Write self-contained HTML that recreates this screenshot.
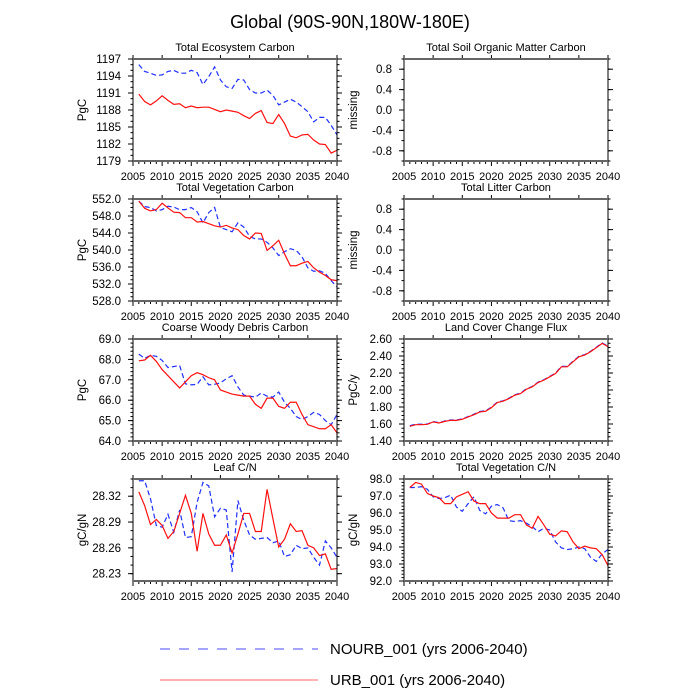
<!DOCTYPE html>
<html><head><meta charset="utf-8"><style>
body{margin:0;background:#fff;}
svg{display:block;font-family:"Liberation Sans",sans-serif;}
</style></head><body>
<svg id="c" width="700" height="700" viewBox="0 0 700 700">
<text x="350" y="28" font-size="18" text-anchor="middle">Global (90S-90N,180W-180E)</text>
<g>
<line x1="160" y1="649" x2="318" y2="649" stroke="#00f" stroke-width="1" stroke-dasharray="10,9" opacity="0.7"/>
<text x="330" y="654" font-size="15">NOURB_001 (yrs 2006-2040)</text>
<line x1="160" y1="680" x2="318" y2="680" stroke="#f00" stroke-width="1" opacity="0.6"/>
<text x="330" y="685" font-size="15">URB_001 (yrs 2006-2040)</text>
</g>
</svg>
<script>
const years=[];for(let y=2006;y<=2040;y++)years.push(y);
const tecRed=[1190.8,1189.5,1188.9,1189.6,1190.5,1189.7,1189.0,1189.1,1188.4,1188.7,1188.4,1188.5,1188.5,1188.1,1187.7,1188.0,1187.8,1187.6,1187.0,1186.5,1187.4,1187.9,1185.8,1185.6,1187.2,1185.6,1183.4,1183.1,1183.6,1183.7,1182.7,1182.0,1181.9,1180.4,1180.9];
const tecBlue=[1196.0,1194.8,1194.5,1194.1,1194.2,1194.8,1195.0,1194.5,1194.5,1195.0,1194.6,1192.5,1193.9,1195.6,1193.3,1192.1,1191.8,1193.4,1193.3,1191.6,1191.0,1191.0,1191.5,1190.6,1188.9,1189.4,1189.9,1189.4,1188.6,1187.7,1185.9,1186.7,1186.7,1185.3,1183.6];
const tvcRed=[551.5,549.8,549.2,549.5,551.0,549.9,548.9,548.8,547.6,547.6,546.6,546.7,546.2,545.7,545.4,545.8,545.2,544.8,543.4,542.6,544.0,543.9,539.9,541.0,542.3,539.1,536.3,536.3,536.9,537.3,535.8,534.8,534.0,533.0,532.8];
const tvcBlue=[551.5,550.2,550.0,549.2,549.5,550.3,550.1,549.5,549.5,550.0,549.0,546.4,548.8,550.0,545.3,544.8,544.3,546.4,545.4,543.2,542.6,542.6,541.8,540.5,538.7,539.6,540.3,539.9,538.4,535.8,535.0,535.1,534.5,532.8,531.3];
const cwdRed=[67.93,67.97,68.2,67.9,67.5,67.2,66.9,66.6,66.9,67.2,67.35,67.25,67.1,67.0,66.5,66.4,66.3,66.25,66.2,66.2,65.8,65.6,66.1,66.1,65.7,65.6,65.9,65.9,65.3,64.8,64.7,64.6,64.6,64.8,64.4];
const cwdBlue=[68.26,68.05,68.2,68.15,67.95,67.6,67.65,67.7,66.8,66.75,66.78,67.15,66.75,66.78,66.85,67.05,67.2,66.65,66.25,66.2,66.15,66.35,66.2,66.15,66.4,65.9,65.6,65.2,65.05,65.2,65.4,65.3,65.0,64.8,65.3];
const lcnRed=[28.325,28.309,28.287,28.293,28.286,28.271,28.279,28.300,28.321,28.300,28.256,28.300,28.276,28.263,28.263,28.275,28.254,28.276,28.300,28.300,28.279,28.279,28.328,28.294,28.261,28.270,28.288,28.279,28.280,28.263,28.260,28.251,28.253,28.235,28.236];
const lcnBlue=[28.338,28.338,28.317,28.286,28.284,28.299,28.278,28.304,28.272,28.273,28.313,28.336,28.332,28.296,28.306,28.304,28.232,28.315,28.292,28.275,28.270,28.271,28.272,28.266,28.268,28.250,28.252,28.263,28.259,28.260,28.249,28.240,28.268,28.260,28.249];
const lccRed=[1.573,1.592,1.592,1.596,1.624,1.612,1.631,1.643,1.643,1.655,1.683,1.710,1.742,1.750,1.793,1.852,1.868,1.899,1.939,1.958,2.009,2.037,2.088,2.116,2.155,2.194,2.273,2.273,2.332,2.391,2.411,2.450,2.498,2.549,2.509];
const lccBlue=[1.580,1.598,1.597,1.600,1.628,1.616,1.636,1.647,1.647,1.660,1.688,1.715,1.747,1.755,1.798,1.857,1.873,1.904,1.944,1.963,2.014,2.042,2.093,2.121,2.160,2.199,2.278,2.278,2.337,2.396,2.416,2.455,2.503,2.554,2.514];
const vcnRed=[97.5,97.8,97.7,97.15,97.0,96.9,96.55,96.55,96.95,97.1,97.25,96.7,96.55,96.55,96.0,95.7,95.7,95.7,95.9,95.9,95.3,95.1,95.8,95.3,94.75,94.65,94.95,94.9,94.3,93.9,94.05,93.95,93.9,93.55,92.9];
const vcnBlue=[97.5,97.5,97.55,97.4,96.95,96.85,96.9,97.05,96.35,96.1,96.55,96.95,96.15,95.95,96.4,96.5,96.3,95.55,95.5,95.55,95.4,95.2,94.9,95.1,95.0,94.3,93.95,93.85,93.9,94.0,93.9,93.4,93.15,93.6,93.85];
const xTicks=[2005,2010,2015,2020,2025,2030,2035,2040];
const tecTicks=[1179,1182,1185,1188,1191,1194,1197];
const tvcTicks=[528,532,536,540,544,548,552];
const cwdTicks=[64,65,66,67,68,69];
const lcnTicks=[28.23,28.26,28.29,28.32];
const lccTicks=[1.4,1.6,1.8,2.0,2.2,2.4,2.6];
const vcnTicks=[92,93,94,95,96,97,98];
const missTicks=[-0.8,-0.4,0,0.4,0.8];

const NS="http://www.w3.org/2000/svg";
const svg=document.getElementById('c');
function mk(tag,attrs,parent){const e=document.createElementNS(NS,tag);for(const k in attrs)e.setAttribute(k,attrs[k]);(parent||svg).appendChild(e);return e;}

const panels=[
 {name:'total-ecosystem-carbon',title:'Total Ecosystem Carbon',x:133,y:59,ylab:'PgC',ymin:1179,ymax:1197,ticks:tecTicks,minor:1,dec:0,red:tecRed,blue:tecBlue},
 {name:'total-soil-organic-matter-carbon',title:'Total Soil Organic Matter Carbon',x:404,y:59,ylab:'missing',ymin:-1,ymax:1,ticks:missTicks,minor:0.2,dec:1,red:null,blue:null},
 {name:'total-vegetation-carbon',title:'Total Vegetation Carbon',x:133,y:199,ylab:'PgC',ymin:528,ymax:552,ticks:tvcTicks,minor:1,dec:1,red:tvcRed,blue:tvcBlue},
 {name:'total-litter-carbon',title:'Total Litter Carbon',x:404,y:199,ylab:'missing',ymin:-1,ymax:1,ticks:missTicks,minor:0.2,dec:1,red:null,blue:null},
 {name:'coarse-woody-debris-carbon',title:'Coarse Woody Debris Carbon',x:133,y:339,ylab:'PgC',ymin:64,ymax:69,ticks:cwdTicks,minor:0.2,dec:1,red:cwdRed,blue:cwdBlue},
 {name:'land-cover-change-flux',title:'Land Cover Change Flux',x:404,y:339,ylab:'PgC/y',ymin:1.4,ymax:2.6,ticks:lccTicks,minor:0.05,dec:2,red:lccRed,blue:lccBlue},
 {name:'leaf-cn',title:'Leaf C/N',x:133,y:479,ylab:'gC/gN',ymin:28.2215,ymax:28.34,ticks:lcnTicks,minor:0.01,dec:2,red:lcnRed,blue:lcnBlue},
 {name:'total-vegetation-cn',title:'Total Vegetation C/N',x:404,y:479,ylab:'gC/gN',ymin:92,ymax:98,ticks:vcnTicks,minor:0.2,dec:1,red:vcnRed,blue:vcnBlue}
];
const W=204,H=102;
panels.forEach(p=>{
 const g=mk('g',{});
 
 
 const sx=v=>p.x+(v-2005)/35*W;
 const sy=v=>p.y+H-(v-p.ymin)/(p.ymax-p.ymin)*H;
 const t=mk('text',{x:p.x+W/2,y:p.y-8,'font-size':11,'text-anchor':'middle'},g);t.textContent=p.title;
 
 for(let yr=2005;yr<=2040;yr++){
  const major=(yr%5==0);const X=sx(yr);
  mk('line',{x1:X,y1:p.y+H,x2:X,y2:p.y+H+(major?5:3),stroke:'#000','stroke-width':1},g);
  if(major) mk('line',{x1:X,y1:p.y,x2:X,y2:p.y-4,stroke:'#000','stroke-width':1},g);
 }
 xTicks.forEach(v=>{const tt=mk('text',{x:sx(v),y:p.y+H+19,'font-size':11,'text-anchor':'middle'},g);tt.textContent=v;
  });
 const start=Math.ceil(p.ymin/p.minor-1e-6);
 for(let k=start;k*p.minor<=p.ymax+1e-9;k++){
  const v=k*p.minor;const Y=sy(v);
  mk('line',{x1:p.x,y1:Y,x2:p.x-2.5,y2:Y,stroke:'#000','stroke-width':1},g);
  mk('line',{x1:p.x+W,y1:Y,x2:p.x+W+2.5,y2:Y,stroke:'#000','stroke-width':1},g);
 }
 p.ticks.forEach(v=>{const Y=sy(v);
  mk('line',{x1:p.x,y1:Y,x2:p.x-5,y2:Y,stroke:'#000','stroke-width':1},g);
  mk('line',{x1:p.x+W,y1:Y,x2:p.x+W+5,y2:Y,stroke:'#000','stroke-width':1},g);
  const tt=mk('text',{x:p.x-12,y:Y+4,'font-size':11.5,'text-anchor':'end'},g);tt.textContent=v.toFixed(p.dec);
  });
 const yl=mk('text',{x:0,y:0,'font-size':11.5,'text-anchor':'middle',transform:`translate(${p.x-47},${p.y+H/2}) rotate(-90)`},g);yl.textContent=p.ylab;
 
 if(p.blue){
  const pb=mk('polyline',{points:years.map((yr,i)=>sx(yr)+','+sy(p.blue[i])).join(' '),fill:'none',stroke:'#2030ff','stroke-width':1.2,'stroke-dasharray':'5,3'},g);
  
  const pr=mk('polyline',{points:years.map((yr,i)=>sx(yr)+','+sy(p.red[i])).join(' '),fill:'none',stroke:'#ff1010','stroke-width':1.2},g);
  
 }
 mk('rect',{x:p.x,y:p.y,width:W,height:H,fill:'none',stroke:'#000','stroke-width':1},g);
 mk('line',{x1:p.x,y1:p.y,x2:p.x+W,y2:p.y,stroke:'#666','stroke-width':2},g);
 mk('line',{x1:p.x,y1:p.y+H,x2:p.x+W,y2:p.y+H,stroke:'#666','stroke-width':2},g);
});
</script>
</body></html>
